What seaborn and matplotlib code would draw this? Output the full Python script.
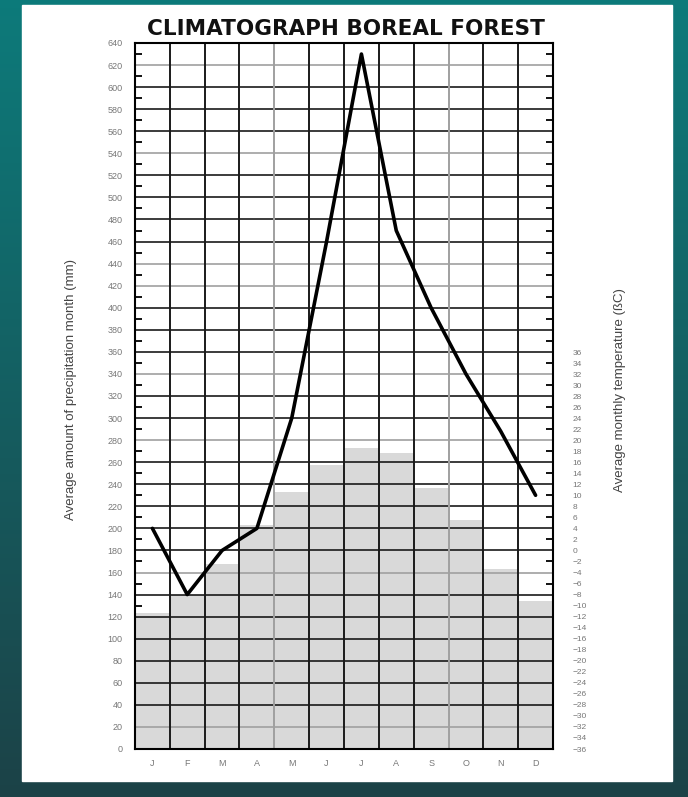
import numpy as np
import pandas as pd
import seaborn as sns
import matplotlib.pyplot as plt
from matplotlib.patches import Rectangle

months = ['J', 'F', 'M', 'A', 'M', 'J', 'J', 'A', 'S', 'O', 'N', 'D']
bar_values = [123, 140, 168, 203, 233, 257, 273, 268, 237, 208, 163, 134]
line_values = [200, 140, 180, 200, 300, 460, 630, 470, 400, 340, 288, 230]
precip_ticks = list(range(0, 641, 20))
temp_ticks = list(range(-36, 37, 2))

# lineas de la cuadricula que salen en gris claro
gray_rows = [620, 540, 440, 420, 340, 280, 160, 20]
gray_cols = [3.5, 8.5]

df = pd.DataFrame({'pos': range(12), 'month': months,
                   'precip': bar_values, 'line': line_values})

sns.set_theme(style='white')
plt.rcParams['font.family'] = ['Liberation Sans', 'DejaVu Sans']

W, H = 688, 797
fig = plt.figure(figsize=(W / 100, H / 100), dpi=100)

# fondo degradado verde azulado con panel blanco
bg = fig.add_axes([0, 0, 1, 1])
bg.axis('off')
yy = np.linspace(0, 1, 200)[:, None, None]
top_c = np.array([0.05, 0.48, 0.48])
bot_c = np.array([0.11, 0.26, 0.28])
grad = top_c * (1 - yy) + bot_c * yy
grad = np.repeat(grad, 50, axis=1)
bg.imshow(grad, extent=[0, 1, 0, 1], aspect='auto')
bg.add_patch(Rectangle((22 / W, 16 / H), 650 / W, 776 / H, color='white'))
bg.set_xlim(0, 1)
bg.set_ylim(0, 1)

ax = fig.add_axes([135 / W, 48 / H, 418 / W, 706 / H])
sns.barplot(data=df, x='pos', y='precip', color='#d9d9d9', width=1.0,
            saturation=1, edgecolor='none', ax=ax, zorder=1)
sns.lineplot(data=df, x='pos', y='line', color='black', lw=2.6, ax=ax, zorder=5)

for v in precip_ticks[1:-1]:
    c = '#a0a0a0' if v in gray_rows else '#1a1a1a'
    ax.axhline(v, color=c, lw=1.2, zorder=2)
for b in np.arange(0.5, 11, 1):
    c = '#a0a0a0' if b in gray_cols else '#1a1a1a'
    ax.axvline(b, color=c, lw=1.4, zorder=2)

ax.set_xlim(-0.5, 11.5)
ax.set_ylim(0, 640)
ax.set_yticks(precip_ticks)
ax.set_yticklabels([str(v) for v in precip_ticks], fontsize=6.5, color='#777777')
ax.set_yticks(np.arange(10, 640, 20), minor=True)
ax.set_xticks(range(12))
ax.set_xticklabels(months, fontsize=6.5, color='#777777')
ax.set_xlabel('')
ax.set_ylabel('')
for s in ax.spines.values():
    s.set_color('black')
    s.set_linewidth(1.5)

# eje de temperatura a la derecha
ax2 = ax.twinx()
ax2.set_ylim(-36, 92.05)
ax2.set_yticks(temp_ticks)
ax2.set_yticklabels([('\u2212' + str(-t)) if t < 0 else str(t) for t in temp_ticks],
                    fontsize=6, color='#777777')
ax2.tick_params(axis='y', length=0, pad=14)
for s in ax2.spines.values():
    s.set_visible(False)
ax2.grid(False)

# despues de twinx para que no se pierdan las marcas de la derecha
ax.tick_params(axis='y', which='major', length=0, pad=9)
ax.tick_params(axis='x', which='major', length=0, pad=7)
ax.tick_params(axis='y', which='minor', direction='in', length=5, width=1.3,
               color='black', left=True, right=True)

fig.text(71 / W, 1 - 390 / H, 'Average amount of precipitation month (mm)',
         rotation=90, ha='center', va='center', fontsize=9.5, color='#444444')
fig.text(620 / W, 1 - 390 / H, 'Average monthly temperature (\u00dfC)',
         rotation=90, ha='center', va='center', fontsize=9.5, color='#444444')
fig.text(346 / W, 1 - 29 / H, 'CLIMATOGRAPH BOREAL FOREST', ha='center', va='center',
         fontsize=15.5, fontweight='bold', family='DejaVu Sans', color='#111111')

fig.savefig('out.png', dpi=100)
